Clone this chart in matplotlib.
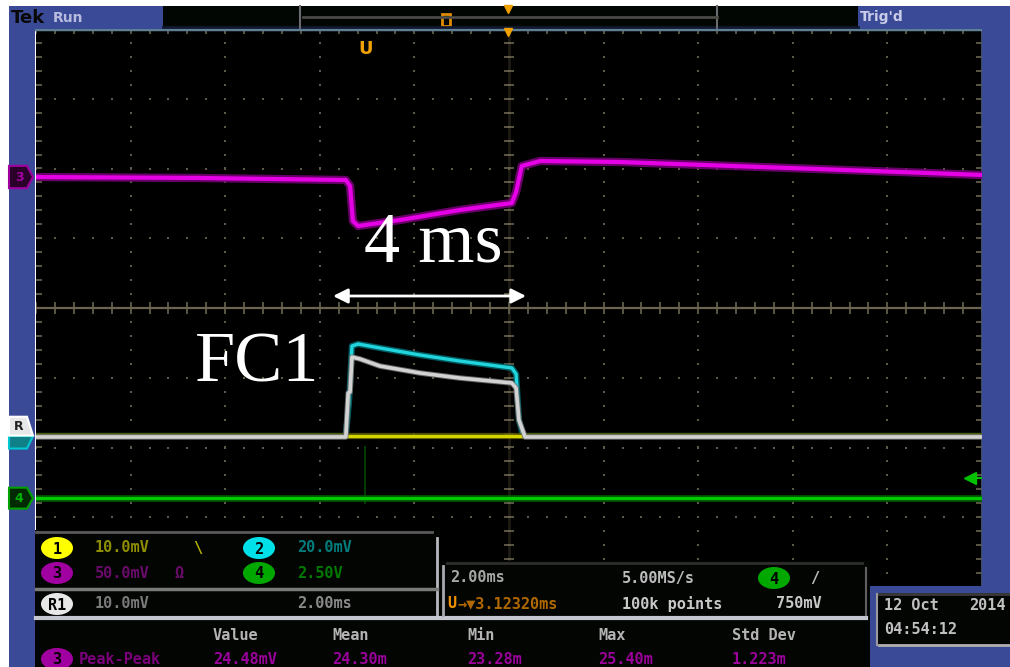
import matplotlib
matplotlib.use("Agg")
import matplotlib.pyplot as plt
import matplotlib.patches as mpatches
import matplotlib.transforms as mtransforms
import numpy as np

# ---- scope settings ----
time_div = 2.0      # ms / div
n_hdiv, n_vdiv = 10, 8

# ---- traces (time in ms, level in divisions) ----
ch3_t = [0.0, 3.47, 6.55, 6.64, 6.70, 6.81, 7.70, 8.96, 10.06, 10.15, 10.27,
         10.66, 12.35, 15.31, 18.27, 20.0]
ch3_v = [1.878, 1.864, 1.835, 1.749, 1.247, 1.176, 1.262, 1.405, 1.505, 1.663,
         2.036, 2.108, 2.093, 2.022, 1.950, 1.907]

ch2_t = [0.0, 6.55, 6.62, 6.68, 6.81, 7.27, 8.12, 8.96, 10.06, 10.15, 10.21,
         10.30, 20.0]
ch2_v = [-1.835, -1.835, -1.319, -0.545, -0.516, -0.573, -0.674, -0.760,
         -0.860, -0.946, -1.606, -1.835, -1.835]

r1_t = [0.0, 6.55, 6.60, 6.64, 6.68, 6.85, 7.27, 8.12, 8.96, 10.06, 10.15,
        10.21, 10.34, 20.0]
r1_v = [-1.849, -1.849, -1.219, -1.204, -0.703, -0.731, -0.832, -0.932,
        -1.004, -1.075, -1.147, -1.606, -1.849, -1.849]

ch1_t = [0.0, 20.0]
ch1_v = [-1.835, -1.835]

ch4_t = [0.0, 20.0]
ch4_v = [-2.726, -2.726]

trig_t = 6.96
trig_level = -2.44

# ---- readouts ----
chan_names = ["1", "2", "3", "4"]
chan_scales = ["10.0mV", "20.0mV", "50.0mV", "2.50V"]
ref_name, ref_scale, ref_time = "R1", "10.0mV", "2.00ms"
horiz_scale, sample_rate = "2.00ms", "5.00MS/s"
trig_pos, rec_len, trig_lvl_txt = "\u2192\u25bc3.12320ms", "100k points", "750mV"
meas_headers = ["Value", "Mean", "Min", "Max", "Std Dev"]
meas_name = "Peak-Peak"
meas_values = ["24.48mV", "24.30m", "23.28m", "25.40m", "1.223m"]
date_txt = ["12 Oct", "2014", "04:54:12"]

BLUE = "#3b4a96"
MONO = dict(family="DejaVu Sans Mono", fontweight="bold", fontsize=11)

fig = plt.figure(figsize=(10.10, 6.67), dpi=100)
fig.patch.set_facecolor("white")

# scope graticule axes
ax = fig.add_axes([36 / 1010, 80 / 667, 946 / 1010, 558 / 667])
ax.set_facecolor("black")
xmax = n_hdiv * time_div
ax.set_xlim(0, xmax)
ax.set_ylim(-n_vdiv / 2, n_vdiv / 2)
ax.set_xticks([])
ax.set_yticks([])
for s in ["left", "bottom"]:
    ax.spines[s].set_visible(False)
ax.spines["top"].set_color("#5f7f95")
ax.spines["top"].set_linewidth(2.5)
ax.spines["right"].set_color("#46576a")
ax.spines["right"].set_linewidth(2)

# graticule
xminor = np.arange(0, xmax + 1e-6, time_div / 5)
yminor = np.arange(-4, 4 + 1e-6, 0.2)
xmajor = np.arange(time_div, xmax, time_div)
ymajor = np.arange(-3, 4, 1)
gx, gy = np.meshgrid(xmajor, yminor)
ax.scatter(gx.ravel(), gy.ravel(), s=2.2, marker="s", color="#5e5a48", lw=0, zorder=1)
gx, gy = np.meshgrid(xminor, ymajor)
ax.scatter(gx.ravel(), gy.ravel(), s=2.2, marker="s", color="#5e5a48", lw=0, zorder=1)
ax.axhline(0, color="#6b6450", lw=1.6, zorder=1)
ax.vlines(xminor, -0.09, 0.09, color="#6b6450", lw=1.2, zorder=1)
ax.axvline(xmax / 2, color="#1e1b12", lw=2, zorder=0.9)
ax.hlines(yminor, xmax / 2 - 0.11, xmax / 2 + 0.11, color="#6b6450", lw=1.2, zorder=1)
ax.hlines(yminor, 0, 0.12, color="#6b6450", lw=1.2, zorder=1)
ax.hlines(yminor, xmax - 0.12, xmax, color="#6b6450", lw=1.2, zorder=1)
ax.vlines(xminor, 3.93, 4, color="#6b6450", lw=1.2, zorder=1)


def trace(t, v, core, glow, lwc, lwg, z):
    ax.plot(t, v, color=glow, lw=lwg, alpha=0.85, solid_joinstyle="round", zorder=z)
    ax.plot(t, v, color=core, lw=lwc, solid_joinstyle="round", zorder=z + 0.1)


ax.plot([trig_t, trig_t], [-1.994, -2.798], color="#023a02", lw=1.5, zorder=2)
trace(ch4_t, ch4_v, "#00c800", "#005800", 2.4, 5.0, 3)
trace(ch2_t, ch2_v, "#22d4dc", "#006a70", 2.4, 4.5, 4)
trace(ch1_t, ch1_v, "#d4d400", "#5a5a00", 2.4, 4.5, 5)
trace(r1_t, r1_v, "#d2d2d2", "#707070", 2.6, 4.0, 6)
trace(ch3_t, ch3_v, "#e600e6", "#7a007a", 3.0, 6.0, 7)

# trigger level arrow on right edge
ax.plot([19.75, xmax], [trig_level, trig_level], color="#00c000", lw=1.5, zorder=8)
ax.plot(19.75, trig_level, marker="<", color="#00c000", ms=8, zorder=8)
# trigger point marker
ax.text(trig_t, 3.72, "U", color="#f0a000", fontsize=13, fontweight="bold",
        ha="center", va="center", zorder=8)

# annotations
ax.text(8.40, 0.66, "4 ms", family="Liberation Serif", fontsize=52, color="white",
        ha="center", va="baseline", zorder=10)
ax.text(4.68, -1.06, "FC1", family="Liberation Serif", fontsize=52, color="white",
        ha="center", va="baseline", zorder=10)
ax.annotate("", xy=(6.28, 0.172), xytext=(10.36, 0.172),
            arrowprops=dict(arrowstyle="<|-|>", color="white", lw=2,
                            mutation_scale=22, shrinkA=0, shrinkB=0), zorder=10)

# ---- screen chrome overlay (pixel coordinates) ----
ui = fig.add_axes([0, 0, 1, 1], zorder=5)
ui.set_xlim(0, 1010)
ui.set_ylim(667, 0)
ui.axis("off")
ui.patch.set_alpha(0)


def rect(x, y, w, h, **kw):
    ui.add_patch(mpatches.Rectangle((x, y), w, h, **kw))


rect(9, 6, 26, 661, fc=BLUE, lw=0)
rect(9, 6, 154, 23, fc=BLUE, lw=0)
rect(858, 6, 152, 23, fc=BLUE, lw=0)
rect(982, 6, 28, 585, fc=BLUE, lw=0)
rect(870, 586, 140, 81, fc=BLUE, lw=0)
rect(163, 6, 695, 22, fc="#020602", lw=0)
ui.plot([163, 858], [27, 27], color="#101830", lw=2)
ui.plot([300, 300], [6, 28], color="#6a6a70", lw=1.5)
ui.plot([717, 717], [6, 28], color="#6a6a70", lw=1.5)
ui.plot([303, 717], [17, 17], color="#4a4a46", lw=2)
rect(442, 14, 8, 12, fc="none", ec="#e08a00", lw=2)
ui.plot(508, 9, marker="v", color="#f0a000", ms=6)
ui.plot(508, 32, marker="v", color="#f0a000", ms=6)
ui.text(11, 18, "Tek", color="#080808", fontsize=13, fontweight="bold", va="center")
ui.text(53, 18, "Run", color="#b8bce0", fontsize=10, fontweight="bold", va="center")
ui.text(860, 17, "Trig'd", color="#c8cce8", fontsize=10, fontweight="bold", va="center")

# channel markers on left edge (x in pixels, y in trace divisions)
bt = mtransforms.blended_transform_factory(ui.transData, ax.transData)


def marker(v, h_up, h_dn, fc, ec, label, tc):
    pts = [(9, v + h_up), (27, v + h_up), (33, v), (27, v - h_dn), (9, v - h_dn)]
    ui.add_patch(mpatches.Polygon(pts, closed=True, fc=fc, ec=ec, lw=1.5,
                                  transform=bt, zorder=6))
    if label:
        ui.text(19, v + (h_up - h_dn) / 2, label, color=tc, fontsize=9,
                fontweight="bold", ha="center", va="center", transform=bt, zorder=7)


marker(ch3_v[0], 0.16, 0.16, "#2a002a", "#a000a0", "3", "#a000a0")
marker(ch2_v[0], 0.0, 0.18, "#108088", "#00c8d0", "", "k")
marker(r1_v[0] + 0.02, 0.27, 0.0, "#e8e8e8", "#ffffff", "R", "#202020")
marker(ch4_v[0], 0.15, 0.15, "#022a02", "#00a000", "4", "#00b000")

# bottom readout panels
rect(35, 530, 405, 137, fc="#030503", lw=0)
rect(440, 561, 430, 106, fc="#030503", lw=0)
ui.plot([36, 432], [532, 532], color="#5a5a5a", lw=2)
ui.plot([437, 437], [538, 615], color="#b8b8c0", lw=2)
ui.plot([36, 437], [589, 589], color="#7a7a7a", lw=2.5)
ui.plot([36, 866], [618, 618], color="#c4c6d0", lw=3)
ui.plot([447, 862], [563, 563], color="#2e2e2e", lw=2)
ui.plot([443, 443], [566, 615], color="#a8a8b0", lw=2)
ui.plot([866, 866], [568, 615], color="#606060", lw=1.5)


def badge(x, y, label, fc, tc="black", w=32, h=22):
    ui.add_patch(mpatches.Ellipse((x, y), w, h, fc=fc, lw=0, zorder=6))
    ui.text(x, y + 1, label, color=tc, ha="center", va="center", zorder=7, **MONO)


badge_cols = ["#ffff00", "#00e0e8", "#a000a0", "#00a800"]
text_cols = ["#8e8e00", "#007c7c", "#6a0a6a", "#007a00"]
for i, (nm, sc) in enumerate(zip(chan_names, chan_scales)):
    bx = 57 if i % 2 == 0 else 259
    by = 548 if i < 2 else 573
    badge(bx, by, nm, badge_cols[i])
    ui.text(bx + 38, by, sc, color=text_cols[i], va="center", **MONO)
ui.text(193, 548, "\\", color="#b0b000", va="center", **MONO)
ui.text(174, 573, "\u03a9", color="#6a0a6a", va="center", **MONO)

badge(57, 604, ref_name, "#e8e8e8")
ui.text(95, 604, ref_scale, color="#7a7a7a", va="center", **MONO)
ui.text(297, 604, ref_time, color="#8a8a8a", va="center", **MONO)

ui.text(450, 578, horiz_scale, color="#a8a8a8", va="center", **MONO)
ui.text(622, 578, sample_rate, color="#bcbcbc", va="center", **MONO)
badge(774, 578, chan_names[3], "#00a800")
ui.text(810, 578, "/", color="#bcbcbc", va="center", **MONO)
ui.text(447, 604, "U", color="#f09000", va="center", **MONO)
ui.text(457, 604, trig_pos, color="#b06800", va="center", **MONO)
ui.text(622, 604, rec_len, color="#c8c8c8", va="center", **MONO)
ui.text(776, 604, trig_lvl_txt, color="#c8c8c8", va="center", **MONO)

meas_x = [213, 332, 467, 598, 732]
for mx, hd, val in zip(meas_x, meas_headers, meas_values):
    ui.text(mx, 635, hd, color="#b4b4b4", va="center", **MONO)
    ui.text(mx, 659, val, color="#9a009a", va="center", **MONO)
badge(57, 659, "3", "#a000a0")
ui.text(79, 659, meas_name, color="#7a007a", va="center", **MONO)

# date box
rect(877, 593, 133, 52, fc="#030503", lw=0)
ui.plot([877, 1010], [594, 594], color="#3a3a3a", lw=2)
ui.plot([879, 1010], [645, 645], color="#b0b0b0", lw=2)
ui.plot([877, 877], [594, 645], color="#9a9aa0", lw=1.5)
ui.text(884, 606, date_txt[0], color="#c0c0c0", va="center", **MONO)
ui.text(969, 606, date_txt[1], color="#c0c0c0", va="center", **MONO)
ui.text(884, 630, date_txt[2], color="#c0c0c0", va="center", **MONO)

fig.savefig("out.png", dpi=100, facecolor=fig.get_facecolor())
